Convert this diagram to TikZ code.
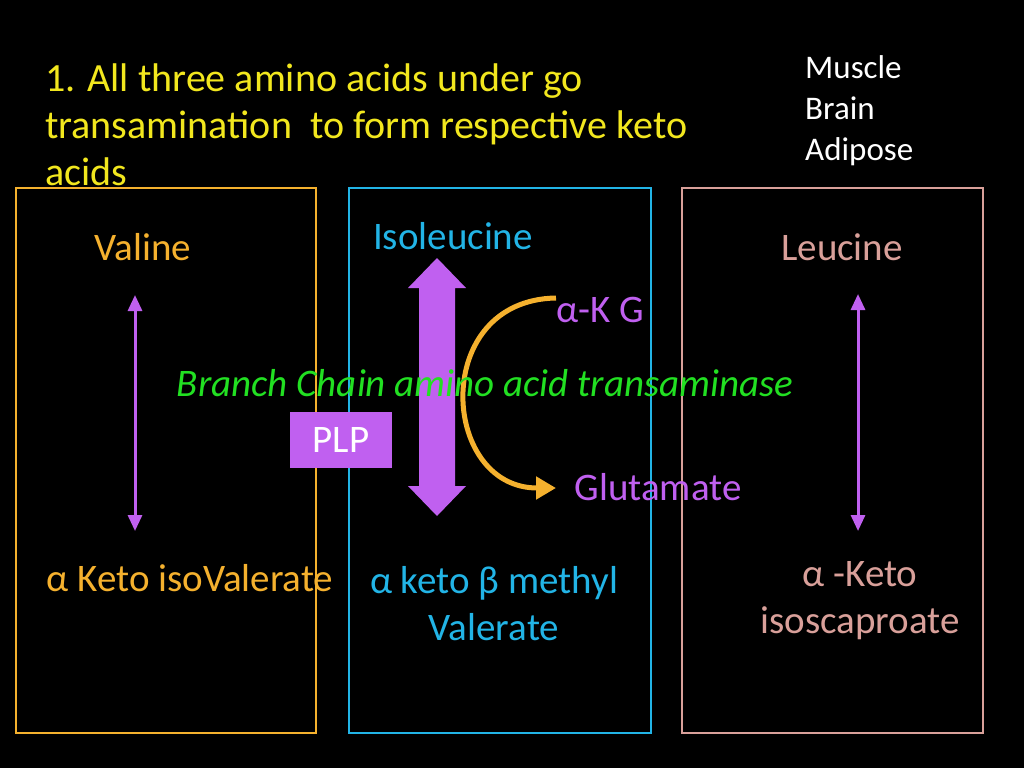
\documentclass[tikz,border=0pt]{standalone}
\usepackage{fontspec}
\setmainfont{Carlito}
\usetikzlibrary{arrows.meta}
\definecolor{ora}{HTML}{F5B12E}
\definecolor{cya}{HTML}{22B4E6}
\definecolor{pnk}{HTML}{D9A09A}
\definecolor{pur}{HTML}{C060F0}
\definecolor{grn}{HTML}{22E022}
\definecolor{ylw}{HTML}{F2E71E}
\begin{document}
\begin{tikzpicture}[x=1pt,y=-1pt,
  lbl/.style={font=\fontsize{39}{47}\selectfont},
  box/.style={draw,line width=2pt},
  thin/.style={pur,line width=3pt,{Triangle[length=16pt,width=14pt]}-{Triangle[length=16pt,width=14pt]}}]
\fill[black] (0,0) rectangle (1024,768);
\useasboundingbox (0,0) rectangle (1024,768);
\node[anchor=north west,ylw,align=left,font=\fontsize{40}{47}\selectfont,inner sep=0] (title) at (45,64) {1. All three amino acids under go\\transamination\ \ to form respective keto\\acids};
\node[anchor=north west,white,align=left,font=\fontsize{33}{41}\selectfont,inner sep=0] (org) at (805,55) {Muscle\\Brain\\Adipose};
\draw[box,ora] (16,188) rectangle (316,733);
\draw[box,cya] (349,188) rectangle (651,733);
\draw[box,pnk] (682,188) rectangle (983,733);
\node[lbl,ora] (val) at (143,247) {Valine};
\node[lbl,cya] (ile) at (453,236) {Isoleucine};
\node[lbl,pnk] (leu) at (842,247) {Leucine};
\coordinate (a1) at (135,295); \coordinate (a2) at (135,531);
\draw[thin] (a1) -- (a2);
\coordinate (c1) at (858,294); \coordinate (c2) at (858,531);
\draw[thin] (c1) -- (c2);
\fill[pur] (437,258) -- (466,288) -- (455,288) -- (455,486) -- (466,486) -- (437,516) -- (408,486) -- (419,486) -- (419,288) -- (408,288) -- cycle;
\coordinate (k1) at (556,298); \coordinate (k2) at (556,488);
\draw[ora,line width=5pt,-{Triangle[length=20pt,width=22pt]}] (k1) .. controls (430,300) and (440,488) .. (k2);
\node[lbl,pur] (akg) at (600,310) {α-K G};
\node[lbl,pur] (glu) at (658,487) {Glutamate};
\node[font=\fontsize{39}{47}\selectfont\itshape,grn] (enz) at (485,383) {Branch Chain amino acid transaminase};
\node[fill=pur,text=white,lbl,minimum width=102pt,minimum height=56pt,inner sep=0] (plp) at (341,440) {PLP};
\node[lbl,ora] (kiv) at (190,578) {α Keto isoValerate};
\node[lbl,cya,align=center] (kmv) at (494,604) {α keto β methyl\\Valerate};
\node[lbl,pnk,align=center] (kic) at (860,601) {α -Keto\\isoscaproate};
\end{tikzpicture}
\end{document}
